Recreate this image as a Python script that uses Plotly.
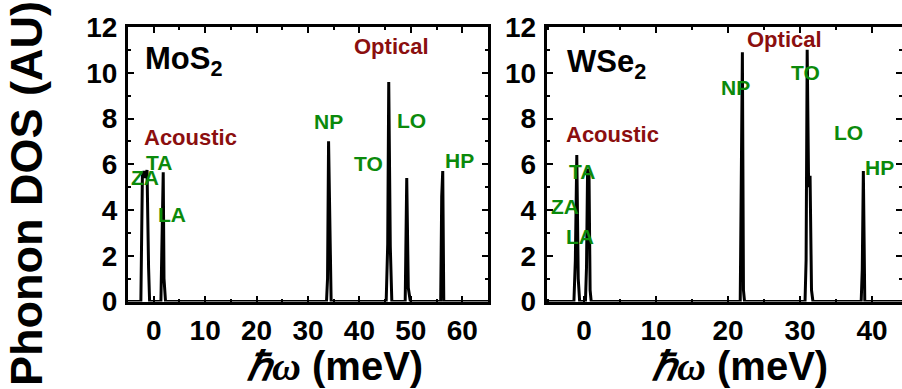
import plotly.graph_objects as go

# ---------------- data ----------------
# MoS2 phonon DOS (spikes)
mos2_energy = [-5, -2.5, -2.2, -1.9, -1.6, -1.3, -1.0, -0.8, 1.4, 1.7, 1.85, 2.0, 2.3,
               33.6, 33.8, 34.0, 34.3, 34.5, 45.2, 45.5, 45.7, 46.0, 46.3,
               48.9, 49.2, 49.5, 49.9, 55.8, 56.0, 56.2, 56.4, 65]
mos2_dos = [0, 0, 5.5, 5.7, 5.4, 5.75, 1.5, 0, 0, 4.5, 5.65, 1.0, 0,
            0, 1.0, 7.0, 3.5, 0, 0, 2.5, 9.6, 2.4, 0,
            0, 5.4, 0.6, 0, 0, 4.6, 5.7, 0, 0]

# WSe2 phonon DOS
wse2_energy = [-5.2, -1.4, -1.2, -1.0, -0.8, -0.6, 0.2, 0.35, 0.5, 0.7, 0.85, 1.0,
               21.7, 21.85, 22.0, 22.15, 22.3, 30.7, 30.85, 31.0, 31.2, 31.4, 31.6, 31.8,
               38.5, 38.65, 38.8, 39.0, 44.2]
wse2_dos = [0, 0, 1.8, 6.4, 1.0, 0, 0, 1.5, 5.8, 5.5, 0.5, 0,
            0, 7.7, 10.9, 0.5, 0, 0, 1.8, 11.0, 5.0, 5.5, 0.5, 0,
            0, 1.4, 5.7, 0, 0]

y_ticks = [0, 2, 4, 6, 8, 10, 12]
mos2_xticks = [0, 10, 20, 30, 40, 50, 60]
wse2_xticks = [0, 10, 20, 30, 40]

# mode labels (text, x, y) in data coords
mos2_modes = ["ZA", "TA", "LA", "NP", "TO", "LO", "HP"]
mos2_mode_x = [-1.65, 1.07, 3.6, 33.9, 41.8, 50.2, 59.5]
mos2_mode_y = [5.42, 6.07, 3.8, 7.87, 6.03, 7.92, 6.16]
wse2_modes = ["ZA", "TA", "LA", "NP", "TO", "LO", "HP"]
wse2_mode_x = [-2.6, -0.3, -0.6, 21.0, 30.8, 36.8, 41.1]
wse2_mode_y = [4.14, 5.68, 2.83, 9.36, 10.0, 7.39, 5.86]
group_labels = ["Acoustic", "Optical"]
mos2_group_x = [7.1, 46.3]
mos2_group_y = [7.17, 11.16]
wse2_group_x = [3.9, 27.9]
wse2_group_y = [7.3, 11.47]

FONT = "Liberation Sans"
GREEN = "#0b8a0b"
RED = "#8b0f0f"

fig = go.Figure()
fig.add_trace(go.Scatter(x=mos2_energy, y=mos2_dos, mode="lines",
                         line=dict(color="black", width=3), xaxis="x", yaxis="y",
                         showlegend=False))
fig.add_trace(go.Scatter(x=wse2_energy, y=wse2_dos, mode="lines",
                         line=dict(color="black", width=3), xaxis="x2", yaxis="y2",
                         showlegend=False))

W, H = 902, 389
ydom = [(H - 301.5) / H, (H - 27) / H]

def xax(dom, rng, ticks, anchor):
    return dict(domain=dom, range=rng, tickvals=ticks, ticktext=[str(t) for t in ticks],
                showline=True, linewidth=3, linecolor="black", mirror="allticks",
                ticks="inside", ticklen=6, tickwidth=2, tickcolor="black",
                minor=dict(dtick=5, tick0=0, ticks="inside", ticklen=3, tickwidth=2, tickcolor="black"),
                showgrid=False, zeroline=False, anchor=anchor, automargin=False,
                tickfont=dict(family=FONT, size=28, color="black", weight="bold"),
                ticklabelstandoff=2)

def yax(rng, anchor):
    return dict(domain=ydom, range=rng, tickvals=y_ticks, ticktext=[str(t) for t in y_ticks],
                showline=True, linewidth=3, linecolor="black", mirror="allticks",
                ticks="inside", ticklen=6, tickwidth=2, tickcolor="black",
                minor=dict(dtick=1, tick0=0, ticks="inside", ticklen=3, tickwidth=2, tickcolor="black"),
                showgrid=False, zeroline=False, anchor=anchor, automargin=False,
                tickfont=dict(family=FONT, size=28, color="black", weight="bold"),
                ticklabelstandoff=2)

fig.update_layout(
    width=W, height=H, margin=dict(l=0, r=0, t=0, b=0, autoexpand=False),
    paper_bgcolor="white", plot_bgcolor="white",
    xaxis=xax([128 / W, 488 / W], [-5, 65], mos2_xticks, "y"),
    yaxis=yax([0, 12], "x"),
    xaxis2=xax([546.7 / W, 1.0], [-5.18, 44.17], wse2_xticks, "y2"),
    yaxis2=yax([0, 12], "x2"),
)

def a(text, x, y, xref, yref, size, color, **kw):
    return dict(text=text, x=x, y=y, xref=xref, yref=yref, showarrow=False,
                xanchor="center", yanchor="middle",
                font=dict(family=FONT, size=size, color=color, weight="bold"), **kw)

ann = []
for t, x, y in zip(mos2_modes, mos2_mode_x, mos2_mode_y):
    ann.append(a(t, x, y, "x", "y", 21, GREEN))
for t, x, y in zip(wse2_modes, wse2_mode_x, wse2_mode_y):
    ann.append(a(t, x, y, "x2", "y2", 21, GREEN))
for t, x, y in zip(group_labels, mos2_group_x, mos2_group_y):
    ann.append(a(t, x, y, "x", "y", 22, RED))
for t, x, y in zip(group_labels, wse2_group_x, wse2_group_y):
    ann.append(a(t, x, y, "x2", "y2", 22, RED))

ann.append(a("MoS<sub>2</sub>", 5.9, 10.5, "x", "y", 31, "black"))
ann.append(a("WSe<sub>2</sub>", 3.1, 10.4, "x2", "y2", 31, "black"))

xtitle = "<span style='font-family:Liberation Serif'><i>ℏω</i></span> (meV)"
ann.append(a(xtitle, 334 / W, (H - 366) / H, "paper", "paper", 40, "black"))
ann.append(a(xtitle, 739 / W, (H - 366) / H, "paper", "paper", 40, "black"))
ann.append(a("Phonon DOS (AU)", 26 / W, (H - 194) / H, "paper", "paper", 45, "black",
             textangle=-90))

fig.update_layout(annotations=ann)
fig.write_html("out.html")
